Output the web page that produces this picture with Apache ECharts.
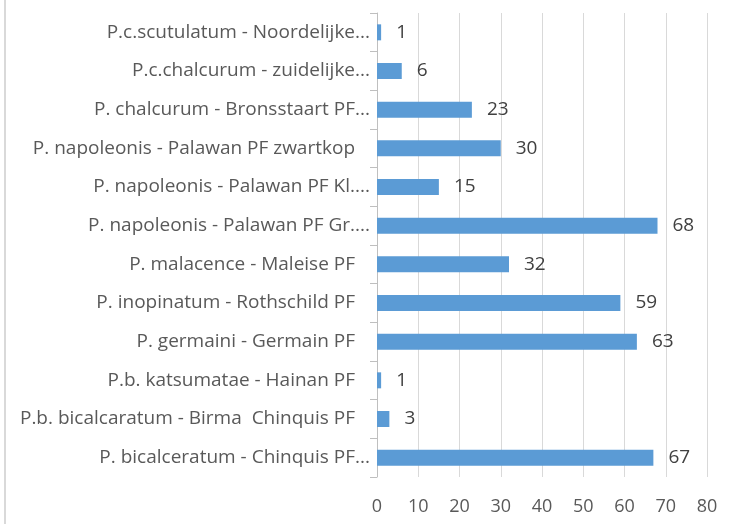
<!DOCTYPE html>
<html>
<head>
    <meta charset="utf-8">
    <title>Fazanten</title>
    <script src="https://cdn.jsdelivr.net/npm/echarts@6/dist/echarts.min.js"></script>
    <style>
        html, body {
            margin: 0;
            padding: 0;
            background: #ffffff;
        }

        #chart {
            width: 736px;
            height: 524px;
        }
    </style>
</head>
<body>
<div id="chart"></div>
<script>
    // categories, top to bottom as in the picture
    var soorten = [
        'P.c.scutulatum - Noordelijke...',
        'P.c.chalcurum - zuidelijke...',
        'P. chalcurum - Bronsstaart PF...',
        'P. napoleonis - Palawan PF zwartkop',
        'P. napoleonis - Palawan PF Kl....',
        'P. napoleonis - Palawan PF Gr....',
        'P. malacence - Maleise PF',
        'P. inopinatum - Rothschild PF',
        'P. germaini - Germain PF',
        'P.b. katsumatae - Hainan PF',
        'P.b. bicalcaratum - Birma  Chinquis PF',
        'P. bicalceratum - Chinquis PF...'
    ];
    var aantallen = [1, 6, 23, 30, 15, 68, 32, 59, 63, 1, 3, 67];

    // x-as
    var asMin = 0;
    var asMax = 80;
    var asStap = 10;

    var chart = echarts.init(document.getElementById('chart'), null, {renderer: 'canvas'});

    var fontNaam = '"Open Sans", "Noto Sans", sans-serif';

    var option = {
        animation: false,
        backgroundColor: '#ffffff',
        grid: {
            left: 377,
            right: 29,
            top: 13,
            bottom: 47,
            containLabel: false
        },
        // rand links van het grafiekvlak
        graphic: [{
            type: 'line',
            shape: {x1: 5, y1: 0, x2: 5, y2: 524},
            style: {stroke: '#d9d9d9', lineWidth: 2}
        }],
        xAxis: {
            type: 'value',
            min: asMin,
            max: asMax,
            interval: asStap,
            axisLine: {show: false},
            axisTick: {show: false},
            splitLine: {lineStyle: {color: '#d9d9d9', width: 1}},
            axisLabel: {
                color: '#595959',
                fontSize: 18,
                fontFamily: fontNaam,
                margin: 21
            }
        },
        yAxis: {
            type: 'category',
            data: soorten,
            inverse: true,
            axisLine: {lineStyle: {color: '#bfbfbf', width: 1}},
            axisTick: {show: true, length: 7, lineStyle: {color: '#bfbfbf'}},
            splitLine: {show: false},
            axisLabel: {
                color: '#595959',
                fontSize: 19,
                fontFamily: fontNaam,
                margin: 7,
                formatter: function (v) {
                    // volledige namen staan iets verder van de as dan afgekorte
                    if (v.slice(-3) === '...') return v;
                    return '{vol|' + v + '}';
                },
                rich: {
                    vol: {
                        color: '#595959',
                        fontSize: 19,
                        fontFamily: fontNaam,
                        padding: [0, 15, 0, 0]
                    }
                }
            }
        },
        series: [{
            type: 'bar',
            data: aantallen,
            barWidth: 16,
            itemStyle: {color: '#5b9bd5'},
            label: {
                show: true,
                position: 'right',
                distance: 15,
                color: '#404040',
                fontSize: 19,
                fontFamily: fontNaam
            }
        }]
    };

    chart.setOption(option);
</script>
</body>
</html>
